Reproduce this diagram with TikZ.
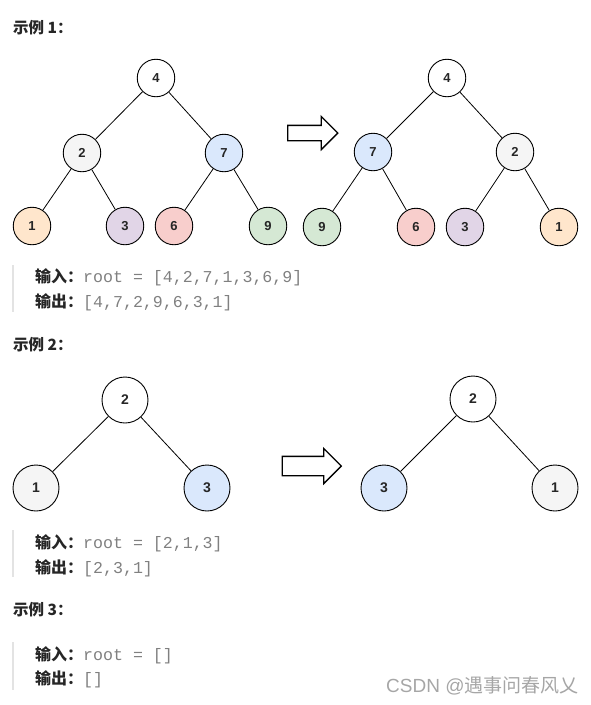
\documentclass[tikz,border=0pt]{standalone}
\usepackage{fontspec}
\setmainfont{Liberation Sans}
\setmonofont{Liberation Mono}
\newfontfamily\cjk{Noto Sans CJK SC}
\usetikzlibrary{positioning, shapes.arrows}

\definecolor{cgray}{HTML}{F5F5F5}
\definecolor{cblue}{HTML}{DAE8FC}
\definecolor{corange}{HTML}{FFE6CC}
\definecolor{cpurple}{HTML}{E1D5E7}
\definecolor{cred}{HTML}{F8CECC}
\definecolor{cgreen}{HTML}{D5E8D4}
\definecolor{ink}{HTML}{262626}
\definecolor{codetext}{HTML}{808080}
\definecolor{barline}{HTML}{E3E3E3}

\tikzset{
  tnode/.style={circle, draw, line width=0.9pt, minimum size=37.5pt, inner sep=0pt,
                font=\bfseries\fontsize{13}{13}\selectfont, text=ink},
  bignode/.style={tnode, minimum size=46pt, font=\bfseries\fontsize{14}{14}\selectfont},
  flip/.style={single arrow, draw, line width=1.3pt, fill=white, inner xsep=0pt,
               single arrow head extend=#1, single arrow head indent=0pt},
  title/.style={anchor=west, inner sep=0pt, text=ink, font=\cjk\bfseries\fontsize{15.5}{15.5}\selectfont},
  io/.style={anchor=west, inner sep=0pt, text=ink, font=\cjk\bfseries\fontsize{16}{16}\selectfont},
  quote/.style={barline, line width=2.5pt}
}
\newcommand{\code}[1]{{\ttfamily\mdseries\fontsize{16.6}{16.6}\selectfont\color{codetext}#1}}

\begin{document}
\begin{tikzpicture}[x=1pt, y=-1pt]
   \useasboundingbox (0,0) rectangle (591,705);

   % Example 1
      \node[title] (ex1) at (13,28) {示例 1：};

      \node[tnode]              (a4) at (156,78)  {4};
      \node[tnode, fill=cgray]  (a2) at (82,153)  {2};
      \node[tnode, fill=cblue]  (a7) at (224,153) {7};
      \node[tnode, fill=corange](a1) at (32,226)  {1};
      \node[tnode, fill=cpurple](a3) at (125,226) {3};
      \node[tnode, fill=cred]   (a6) at (174,226) {6};
      \node[tnode, fill=cgreen] (a9) at (268,226) {9};

      \node[flip=9pt, inner ysep=7pt, minimum height=50pt] (turn1) at (309,133) {};

      \node[tnode]              (b4) at (447,78)  {4};
      \node[tnode, fill=cblue]  (b7) at (373,152) {7};
      \node[tnode, fill=cgray]  (b2) at (515,152) {2};
      \node[tnode, fill=cgreen] (b9) at (322,227) {9};
      \node[tnode, fill=cred]   (b6) at (416,227) {6};
      \node[tnode, fill=cpurple](b3) at (465,227) {3};
      \node[tnode, fill=corange](b1) at (559,227) {1};

      \path[draw, line width=0.8pt] (a4) edge (a2) edge (a7)
                                    (a2) edge (a1) edge (a3)
                                    (a7) edge (a6) edge (a9);
      \path[draw, line width=0.8pt] (b4) edge (b7) edge (b2)
                                    (b7) edge (b9) edge (b6)
                                    (b2) edge (b3) edge (b1);

      \draw[quote] (13,265) -- (13,312);
      \node[io] (in1)  at (35,277) {输入：\code{root = [4,2,7,1,3,6,9]}};
      \node[io] (out1) at (35,302) {输出：\code{[4,7,2,9,6,3,1]}};

   % Example 2
      \node[title] (ex2) at (13,345) {示例 2：};

      \node[bignode]             (c2) at (125,400) {2};
      \node[bignode, fill=cgray] (c1) at (36,488)  {1};
      \node[bignode, fill=cblue] (c3) at (207,488) {3};

      \node[flip=8pt, inner ysep=9pt, minimum height=59pt] (turn2) at (307,466) {};

      \node[bignode]             (d2) at (473,399) {2};
      \node[bignode, fill=cblue] (d3) at (384,488) {3};
      \node[bignode, fill=cgray] (d1) at (555,488) {1};

      \path[draw, line width=0.8pt] (c2) edge (c1) edge (c3)
                                    (d2) edge (d3) edge (d1);

      \draw[quote] (13,530) -- (13,577);
      \node[io] (in2)  at (35,543) {输入：\code{root = [2,1,3]}};
      \node[io] (out2) at (35,568) {输出：\code{[2,3,1]}};

   % Example 3
      \node[title] (ex3) at (13,610) {示例 3：};

      \draw[quote] (13,642) -- (13,690);
      \node[io] (in3)  at (35,655) {输入：\code{root = []}};
      \node[io] (out3) at (35,679) {输出：\code{[]}};

   % Watermark
      \node[anchor=west, inner sep=0pt, text=black!35, font=\fontsize{19}{19}\selectfont]
         (mark) at (386,686) {CSDN @{\cjk 遇事问春风乂}};
\end{tikzpicture}
\end{document}
